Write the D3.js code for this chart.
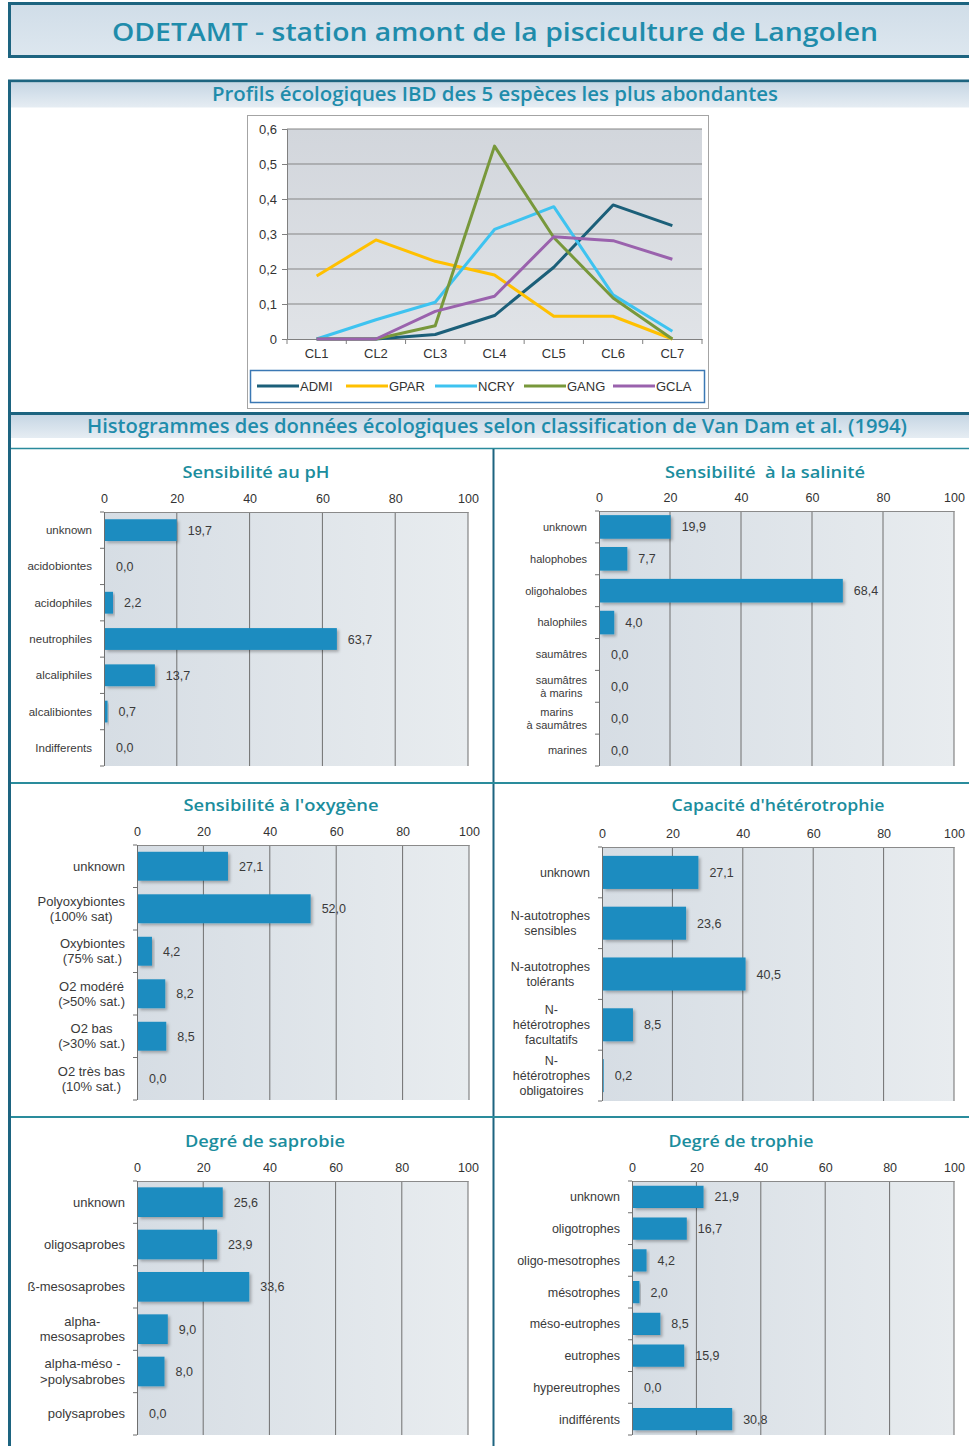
<!DOCTYPE html>
<html>
<head>
<meta charset="utf-8">
<script src="https://cdn.jsdelivr.net/npm/d3@7"></script>
<style>
  html, body { margin: 0; padding: 0; background: #fff; }
  svg { display: block; }
  text { font-family: "Liberation Sans", Arial, sans-serif; }
  .ttl { font-family: "Open Sans", "Noto Sans", sans-serif; white-space: pre; }
</style>
</head>
<body>
<svg id="chart" width="969" height="1446"></svg>
<script>
// ---- Ecological profiles (IBD) of the 5 most abundant species ----
const profileClasses = ["CL1", "CL2", "CL3", "CL4", "CL5", "CL6", "CL7"];
const speciesCodes = ["ADMI", "GPAR", "NCRY", "GANG", "GCLA"];
const admiProfile = [0, 0, 0.013, 0.067, 0.205, 0.383, 0.324];
const gparProfile = [0.18, 0.283, 0.222, 0.183, 0.065, 0.065, 0];
const ncryProfile = [0, 0.055, 0.105, 0.313, 0.378, 0.126, 0.022];
const gangProfile = [0, 0, 0.038, 0.551, 0.29, 0.117, 0];
const gclaProfile = [0, 0, 0.079, 0.122, 0.292, 0.281, 0.228];
const profileTicks = [0, 0.1, 0.2, 0.3, 0.4, 0.5, 0.6];
const speciesColors = ["#1b5f79", "#ffc000", "#3ec3f0", "#78983b", "#9a62ad"];

// ---- Van Dam et al. (1994) ecological classes, % of counts ----
const percentTicks = [0, 20, 40, 60, 80, 100];
const phClasses = ["unknown", "acidobiontes", "acidophiles", "neutrophiles", "alcaliphiles", "alcalibiontes", "Indifferents"];
const phValues = [19.7, 0.0, 2.2, 63.7, 13.7, 0.7, 0.0];
const salinityClasses = ["unknown", "halophobes", "oligohalobes", "halophiles", "saumâtres", "saumâtres\nà marins", "marins\nà saumâtres", "marines"];
const salinityValues = [19.9, 7.7, 68.4, 4.0, 0.0, 0.0, 0.0, 0.0];
const oxygenClasses = ["unknown", "Polyoxybiontes\n(100% sat)", "Oxybiontes\n(75% sat.)", "O2 modéré\n(>50% sat.)", "O2 bas\n(>30% sat.)", "O2 très bas\n(10% sat.)"];
const oxygenValues = [27.1, 52.0, 4.2, 8.2, 8.5, 0.0];
const heteroClasses = ["unknown", "N-autotrophes\nsensibles", "N-autotrophes\ntolérants", "N-\nhétérotrophes\nfacultatifs", "N-\nhétérotrophes\nobligatoires"];
const heteroValues = [27.1, 23.6, 40.5, 8.5, 0.2];
const saprobyClasses = ["unknown", "oligosaprobes", "ß-mesosaprobes", "alpha-\nmesosaprobes", "alpha-méso -\n>polysabrobes", "polysaprobes"];
const saprobyValues = [25.6, 23.9, 33.6, 9.0, 8.0, 0.0];
const trophyClasses = ["unknown", "oligotrophes", "oligo-mesotrophes", "mésotrophes", "méso-eutrophes", "eutrophes", "hypereutrophes", "indifférents"];
const trophyValues = [21.9, 16.7, 4.2, 2.0, 8.5, 15.9, 0.0, 30.8];

const frameColor = "#1d6480";
const titleColor = "#1f8cab";
const panelTitleColor = "#1b8d9d";
const barColor = "#1a8cc0";
const textColor = "#3a3a3a";
const fmtComma = d => d3.format(".1f")(d).replace(".", ",");

const svg = d3.select("#chart");
const defs = svg.append("defs");

function vGrad(id, c0, c1) {
  const g = defs.append("linearGradient").attr("id", id)
    .attr("x1", 0).attr("y1", 0).attr("x2", 0).attr("y2", 1);
  g.append("stop").attr("offset", "0%").attr("stop-color", c0);
  g.append("stop").attr("offset", "100%").attr("stop-color", c1);
}
function hGrad(id, c0, c1) {
  const g = defs.append("linearGradient").attr("id", id)
    .attr("x1", 0).attr("y1", 0).attr("x2", 1).attr("y2", 0);
  g.append("stop").attr("offset", "0%").attr("stop-color", c0);
  g.append("stop").attr("offset", "100%").attr("stop-color", c1);
}
vGrad("bandFill", "#c6d6e4", "#e6edf3");
vGrad("headFill", "#d0dde8", "#dde7ef");
vGrad("profilePlot", "#d2d6dc", "#e0e3e7");
hGrad("barPlot", "#d6dde4", "#e8ecef");

const shadow = defs.append("filter").attr("id", "barShadow")
  .attr("x", "-10%").attr("y", "-20%").attr("width", "130%").attr("height", "160%");
shadow.append("feDropShadow").attr("dx", 2).attr("dy", 2).attr("stdDeviation", 1.5)
  .attr("flood-color", "#000").attr("flood-opacity", 0.28);

function fittedTitle(x, y, size, width, txt, color, weight) {
  svg.append("text").attr("class", "ttl")
    .attr("x", x).attr("y", y)
    .attr("text-anchor", "middle")
    .attr("font-size", size).attr("font-weight", weight)
    .attr("fill", color)
    .attr("textLength", width).attr("lengthAdjust", "spacingAndGlyphs")
    .text(txt);
}

// ---- page frames ----
svg.append("rect").attr("x", 9.5).attr("y", 3.5).attr("width", 975).attr("height", 53)
  .attr("fill", "url(#headFill)").attr("stroke", frameColor).attr("stroke-width", 3);
fittedTitle(495, 41, 26, 766, "ODETAMT - station amont de la pisciculture de Langolen", titleColor, 600);

svg.append("rect").attr("x", 9.5).attr("y", 81).attr("width", 975).attr("height", 1400)
  .attr("fill", "#fff").attr("stroke", frameColor).attr("stroke-width", 3);
svg.append("rect").attr("x", 11).attr("y", 82.5).attr("width", 960).attr("height", 25)
  .attr("fill", "url(#bandFill)");
fittedTitle(495, 101, 19, 566, "Profils écologiques IBD des 5 espèces les plus abondantes", titleColor, 600);

svg.append("line").attr("x1", 8).attr("x2", 969).attr("y1", 413.5).attr("y2", 413.5)
  .attr("stroke", frameColor).attr("stroke-width", 3);
svg.append("rect").attr("x", 11).attr("y", 415).attr("width", 960).attr("height", 23)
  .attr("fill", "url(#bandFill)");
fittedTitle(497, 433, 19, 820, "Histogrammes des données écologiques selon classification de Van Dam et al. (1994)", titleColor, 600);

svg.append("line").attr("x1", 11).attr("x2", 969).attr("y1", 448.5).attr("y2", 448.5)
  .attr("stroke", "#2a8a9c").attr("stroke-width", 1.5);
svg.append("line").attr("x1", 493.5).attr("x2", 493.5).attr("y1", 449).attr("y2", 1446)
  .attr("stroke", frameColor).attr("stroke-width", 2);
[783, 1117].forEach(y => {
  svg.append("line").attr("x1", 11).attr("x2", 969).attr("y1", y).attr("y2", y)
    .attr("stroke", "#2a8c9c").attr("stroke-width", 2);
});

// ---- line chart of species profiles ----
(function drawProfiles() {
  const g = svg.append("g");
  g.append("rect").attr("x", 247.5).attr("y", 115.5).attr("width", 461).attr("height", 293)
    .attr("fill", "#fff").attr("stroke", "#a4a4a4").attr("stroke-width", 1);

  const x = d3.scaleBand().domain(profileClasses).range([287, 702]);
  const y = d3.scaleLinear().domain([0, 0.6]).range([339, 129]);

  g.append("rect").attr("x", x.range()[0]).attr("y", y(0.6))
    .attr("width", x.range()[1] - x.range()[0]).attr("height", y(0) - y(0.6))
    .attr("fill", "url(#profilePlot)");

  g.append("g").selectAll("line").data(profileTicks.slice(1)).join("line")
    .attr("x1", x.range()[0]).attr("x2", x.range()[1])
    .attr("y1", d => y(d)).attr("y2", d => y(d))
    .attr("stroke", "#858585").attr("stroke-width", 1);

  const yAxis = d3.axisLeft(y).tickValues(profileTicks).tickSize(5).tickPadding(5)
    .tickFormat(d => d === 0 ? "0" : d3.format(".1f")(d).replace(".", ","));
  const ya = g.append("g").attr("transform", `translate(${x.range()[0]},0)`).call(yAxis);
  ya.select(".domain").attr("stroke", "#808080");
  ya.selectAll(".tick line").attr("stroke", "#808080");
  ya.selectAll("text").attr("font-size", 13).attr("fill", "#333").attr("font-family", "Liberation Sans, Arial, sans-serif");

  const xAxis = d3.axisBottom(x).tickSize(0).tickPadding(10);
  const xa = g.append("g").attr("transform", `translate(0,${y(0)})`).call(xAxis);
  xa.select(".domain").attr("stroke", "#808080");
  xa.selectAll("text").attr("font-size", 13).attr("fill", "#333").attr("font-family", "Liberation Sans, Arial, sans-serif");
  // category separators below the axis
  g.append("g").selectAll("line").data(profileClasses.concat(["end"])).join("line")
    .attr("x1", (d, i) => x.range()[0] + i * x.step()).attr("x2", (d, i) => x.range()[0] + i * x.step())
    .attr("y1", y(0)).attr("y2", y(0) + 5).attr("stroke", "#808080");

  const series = [admiProfile, gparProfile, ncryProfile, gangProfile, gclaProfile];
  const line = d3.line()
    .x((d, i) => x(profileClasses[i]) + x.bandwidth() / 2)
    .y(d => y(d));
  g.append("g").selectAll("path").data(series).join("path")
    .attr("d", line)
    .attr("fill", "none")
    .attr("stroke", (d, i) => speciesColors[i])
    .attr("stroke-width", 3)
    .attr("stroke-linejoin", "round");

  // legend
  const lg = g.append("g");
  lg.append("rect").attr("x", 250.5).attr("y", 370.5).attr("width", 454).attr("height", 32)
    .attr("fill", "#fff").attr("stroke", "#3b78b4").attr("stroke-width", 1.5);
  const item = lg.selectAll("g").data(speciesCodes).join("g")
    .attr("transform", (d, i) => `translate(${257 + i * 89},386)`);
  item.append("line").attr("x1", 0).attr("x2", 42).attr("y1", 0).attr("y2", 0)
    .attr("stroke", (d, i) => speciesColors[i]).attr("stroke-width", 3);
  item.append("text").attr("x", 43).attr("y", 5).attr("font-size", 13).attr("fill", "#333")
    .text(d => d);
})();

// ---- horizontal bar panels ----
const panels = [
  { title: "Sensibilité au pH", cats: phClasses, vals: phValues, x0: 104, x1: 468, y0: 512, y1: 766, tx: 256, ty: 478, tw: 147, bar: 0.6, ls: 11.5 },
  { title: "Sensibilité  à la salinité", cats: salinityClasses, vals: salinityValues, x0: 599, x1: 954, y0: 511, y1: 766, tx: 765, ty: 478, tw: 200, bar: 0.74, ls: 11 },
  { title: "Sensibilité à l'oxygène", cats: oxygenClasses, vals: oxygenValues, x0: 137, x1: 469, y0: 845, y1: 1100, tx: 281, ty: 811, tw: 195, bar: 0.68, ls: 13 },
  { title: "Capacité d'hétérotrophie", cats: heteroClasses, vals: heteroValues, x0: 602, x1: 954, y0: 847, y1: 1101, tx: 778, ty: 811, tw: 213, bar: 0.65, ls: 12.5 },
  { title: "Degré de saprobie", cats: saprobyClasses, vals: saprobyValues, x0: 137, x1: 468, y0: 1181, y1: 1435, tx: 265, ty: 1147, tw: 160, bar: 0.7, ls: 13 },
  { title: "Degré de trophie", cats: trophyClasses, vals: trophyValues, x0: 632, x1: 954, y0: 1181, y1: 1435, tx: 741, ty: 1147, tw: 145, bar: 0.7, ls: 12.5 }
];

panels.forEach(p => {
  const g = svg.append("g");
  fittedTitle(p.tx, p.ty, 15.5, p.tw, p.title, panelTitleColor, 600);

  const x = d3.scaleLinear().domain([0, 100]).range([p.x0, p.x1]);
  const pad = 1 - p.bar;
  const y = d3.scaleBand().domain(p.cats).range([p.y0, p.y1]).paddingInner(pad).paddingOuter(pad / 2);

  g.append("rect").attr("x", p.x0).attr("y", p.y0).attr("width", p.x1 - p.x0).attr("height", p.y1 - p.y0)
    .attr("fill", "url(#barPlot)");

  // vertical grid lines
  g.append("g").selectAll("line").data(percentTicks.slice(1)).join("line")
    .attr("x1", d => x(d)).attr("x2", d => x(d)).attr("y1", p.y0).attr("y2", p.y1)
    .attr("stroke", "#6f6f6f").attr("stroke-width", 1);

  // top value axis
  const xa = g.append("g").attr("transform", `translate(0,${p.y0})`)
    .call(d3.axisTop(x).tickValues(percentTicks).tickSize(0).tickPadding(9));
  xa.select(".domain").attr("stroke", "#8a8a8a");
  xa.selectAll("text").attr("font-size", 12.5).attr("fill", "#333")
    .attr("font-family", "Liberation Sans, Arial, sans-serif");

  // category axis line with separators
  g.append("line").attr("x1", p.x0 + 0.5).attr("x2", p.x0 + 0.5).attr("y1", p.y0).attr("y2", p.y1)
    .attr("stroke", "#6f6f6f");
  g.append("g").selectAll("line").data(d3.range(p.cats.length + 1)).join("line")
    .attr("x1", p.x0 - 4).attr("x2", p.x0)
    .attr("y1", d => p.y0 + d * y.step()).attr("y2", d => p.y0 + d * y.step())
    .attr("stroke", "#6f6f6f");

  // bars
  g.append("g").selectAll("rect").data(p.vals).join("rect")
    .attr("x", x(0) + 1)
    .attr("y", (d, i) => y(p.cats[i]))
    .attr("width", d => Math.max(0, x(d) - x(0)))
    .attr("height", y.bandwidth())
    .attr("fill", barColor)
    .attr("filter", "url(#barShadow)");

  // value labels
  g.append("g").selectAll("text").data(p.vals).join("text")
    .attr("x", d => x(d) + 12)
    .attr("y", (d, i) => y(p.cats[i]) + y.bandwidth() / 2 + 4.5)
    .attr("font-size", 12.5).attr("fill", textColor)
    .text(d => fmtComma(d));

  // category labels (multi-line labels are centred on their widest line)
  p.cats.forEach((c, i) => {
    const lines = c.split("\n");
    const lh = p.ls * 1.18;
    const cy = y(c) + y.bandwidth() / 2;
    const t = g.append("text").attr("font-size", p.ls).attr("fill", textColor)
      .attr("text-anchor", lines.length > 1 ? "middle" : "end");
    const spans = lines.map((ln, k) => t.append("tspan")
      .attr("y", cy + (k - (lines.length - 1) / 2) * lh + p.ls * 0.35)
      .text(ln));
    const right = p.x0 - 12;
    if (lines.length > 1) {
      const maxW = d3.max(spans, s => s.node().getComputedTextLength());
      spans.forEach(s => s.attr("x", right - maxW / 2));
    } else {
      spans.forEach(s => s.attr("x", right));
    }
  });
});
</script>
</body>
</html>
